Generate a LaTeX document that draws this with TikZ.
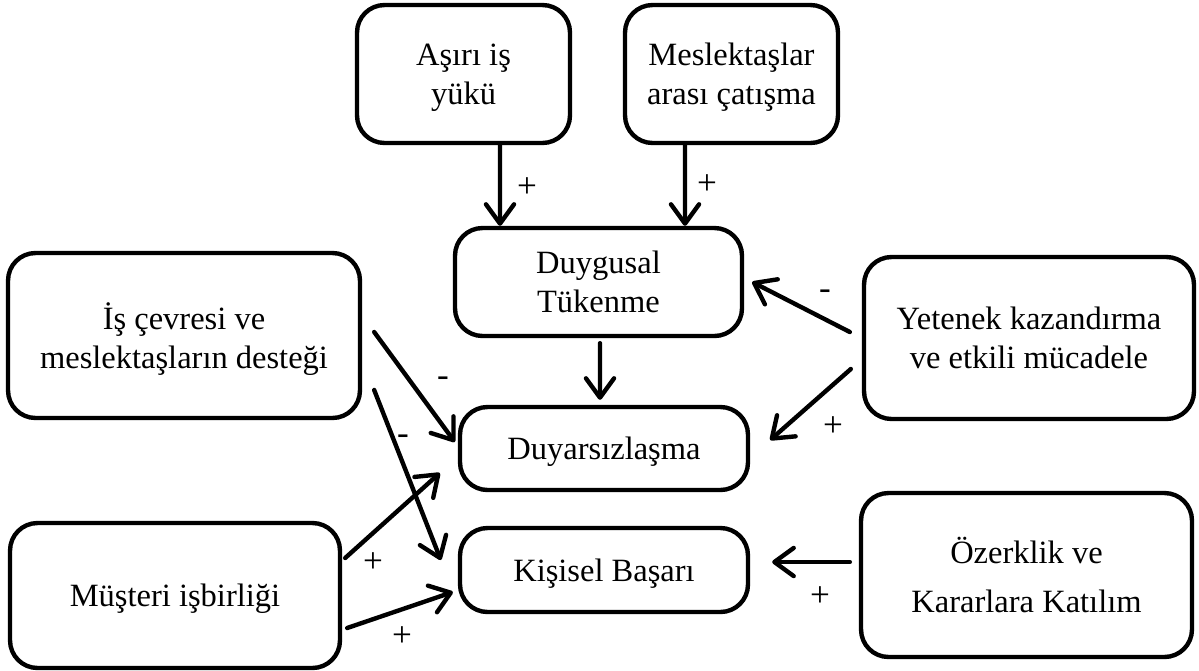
\documentclass[tikz,border=0pt]{standalone}
\usepackage{fontspec}
\setmainfont{Liberation Serif}
\usetikzlibrary{arrows.meta,calc}
\begin{document}
\begin{tikzpicture}[x=0.02cm,y=-0.02cm,
  box/.style={draw,line width=2.5pt,rounded corners=0.55cm,fill=white,
    align=center,inner sep=0pt,text depth=0pt,
    font=\fontsize{18.5}{22}\selectfont},
  arr/.style={line width=2.5pt,line cap=round,
    -{Straight Barb[length=11pt,width=16pt,line cap=round,line join=round]}},
  sign/.style={font=\fontsize{20}{22}\selectfont,inner sep=0pt}]
\useasboundingbox (0,0) rectangle (1199,670);

% factors and outcomes
\node[box,minimum width=4.26cm,minimum height=2.76cm] (asiri) at (463.5,74)
  {Aşırı iş\\yükü};
\node[box,minimum width=4.26cm,minimum height=2.76cm] (mes) at (731.5,74)
  {Meslektaşlar\\arası çatışma};
\node[box,minimum width=5.74cm,minimum height=2.16cm] (duyg) at (598.5,282)
  {Duygusal\\Tükenme};
\node[box,minimum width=7.04cm,minimum height=3.3cm] (isc) at (184,335.5)
  {İş çevresi ve\\meslektaşların desteği};
\node[box,minimum width=6.6cm,minimum height=3.24cm] (yet) at (1029,338)
  {Yetenek kazandırma\\ve etkili mücadele};
\node[box,minimum width=5.76cm,minimum height=1.66cm] (duyar) at (604,448.5) {Duyarsızlaşma};
\node[box,minimum width=5.76cm,minimum height=1.68cm] (kis) at (604,570) {Kişisel Başarı};
\node[box,minimum width=6.6cm,minimum height=2.9cm] (mus) at (175,595.5) {Müşteri işbirliği};
\node[box,minimum width=6.62cm,minimum height=3.28cm,
  font=\fontsize{18.5}{28}\selectfont] (oze) at (1026.5,575)
  {Özerklik ve\\Kararlara Katılım};

% influences
\draw[arr] ($(asiri.south)+(36.5,0)$) -- ($(duyg.north)+(-98.5,0)$);
\draw[arr] ($(mes.south)+(-46.5,0)$) -- ($(duyg.north)+(86.5,0)$);
\draw[arr] ($(duyg.south)+(1.5,5)$) -- ($(duyar.north)+(-4,-5)$);
\draw[arr] ($(isc.east)+(12,-3.5)$) -- ($(duyar.west)+(-3,-6.5)$);
\draw[arr] ($(isc.east)+(12,54.5)$) -- ($(kis.west)+(-17,-10)$);
\draw[arr] ($(mus.east)+(3,-37.5)$) -- ($(duyar.west)+(-18,24.5)$);
\draw[arr] ($(mus.east)+(5,32.5)$) -- ($(kis.west)+(-5,22)$);
\draw[arr] ($(yet.west)+(-12,-6)$) -- ($(duyg.east)+(8,0)$);
\draw[arr] ($(yet.west)+(-11,31)$) -- ($(duyar.east)+(20,-8.5)$);
\draw[arr] ($(oze.west)+(-9,-13)$) -- ($(kis.east)+(22,-8)$);

% signs of the influences
\node[sign] (s1) at (527,188) {+};
\node[sign] (s2) at (707,185) {+};
\node[sign] (s3) at (443,382) {-};
\node[sign] (s4) at (403,440) {-};
\node[sign] (s5) at (373,563) {+};
\node[sign] (s6) at (402,637) {+};
\node[sign] (s7) at (825,295) {-};
\node[sign] (s8) at (833,427) {+};
\node[sign] (s9) at (820,597) {+};
\end{tikzpicture}
\end{document}
